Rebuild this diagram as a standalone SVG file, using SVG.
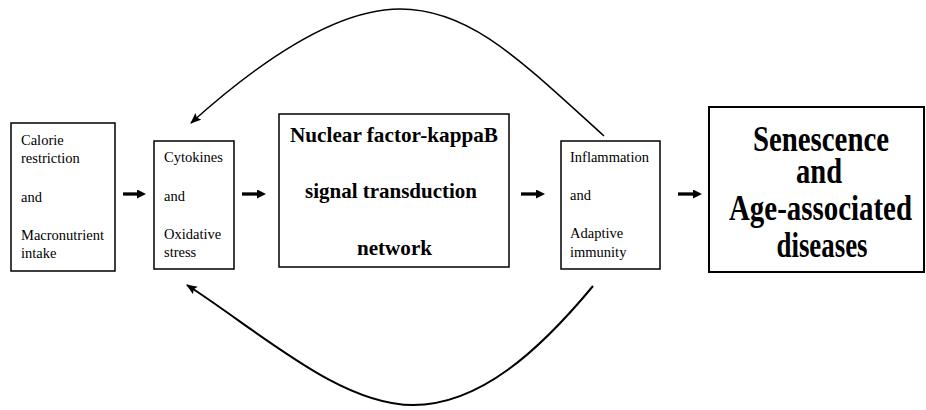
<svg xmlns="http://www.w3.org/2000/svg" width="926" height="410" viewBox="0 0 926 410">
<style>
.box{fill:#fff;stroke:#000;stroke-width:1.5}
.big{fill:#fff;stroke:#000;stroke-width:2}
.t{font-family:"Liberation Serif","Times New Roman",serif;font-size:14.5px;fill:#000}
.b{font-family:"Liberation Serif","Times New Roman",serif;font-weight:bold;fill:#000;text-anchor:middle}
.thick{stroke:#000;stroke-width:3.3;fill:none;marker-end:url(#th)}
.curve{stroke:#000;fill:none;marker-end:url(#cv)}
</style>
<defs>
<marker id="th" markerUnits="userSpaceOnUse" markerWidth="10" markerHeight="10" refX="3" refY="4.5" orient="auto"><path d="M0,0 L9,4.5 L0,9 z" fill="#000"/></marker>
<marker id="cv" markerUnits="userSpaceOnUse" markerWidth="12" markerHeight="10" refX="10" refY="4.5" orient="auto"><path d="M0,0 L11,4.5 L0,9 L2,4.5 z" fill="#000"/></marker>
</defs>
<rect width="926" height="410" fill="#fff"/>
<g id="n1">
<rect class="box" x="11" y="123" width="104" height="148"/>
<text class="t" x="21" y="145">Calorie</text>
<text class="t" x="21" y="163">restriction</text>
<text class="t" x="21" y="202">and</text>
<text class="t" x="21" y="240">Macronutrient</text>
<text class="t" x="21" y="258">intake</text>
</g>
<g id="n2">
<rect class="box" x="154" y="141" width="80" height="128"/>
<text class="t" x="164" y="162">Cytokines</text>
<text class="t" x="164" y="201">and</text>
<text class="t" x="164" y="239">Oxidative</text>
<text class="t" x="164" y="257">stress</text>
</g>
<g id="n3">
<rect class="box" x="279" y="114" width="230" height="153"/>
<text class="b" x="394" y="142" font-size="22" textLength="208" lengthAdjust="spacingAndGlyphs">Nuclear factor-kappaB</text>
<text class="b" x="391" y="198" font-size="22" textLength="172" lengthAdjust="spacingAndGlyphs">signal transduction</text>
<text class="b" x="394.5" y="255" font-size="22" textLength="75" lengthAdjust="spacingAndGlyphs">network</text>
</g>
<g id="n4">
<rect class="box" x="561" y="141" width="99" height="128"/>
<text class="t" x="570" y="162">Inflammation</text>
<text class="t" x="570" y="200">and</text>
<text class="t" x="570" y="238">Adaptive</text>
<text class="t" x="570" y="257">immunity</text>
</g>
<g id="n5">
<rect class="big" x="709" y="107" width="215" height="165"/>
<text class="b" x="821" y="151" font-size="35" textLength="136" lengthAdjust="spacingAndGlyphs">Senescence</text>
<text class="b" x="819" y="183" font-size="35" textLength="46" lengthAdjust="spacingAndGlyphs">and</text>
<text class="b" x="820.5" y="220" font-size="35" textLength="183" lengthAdjust="spacingAndGlyphs">Age-associated</text>
<text class="b" x="822" y="257" font-size="35" textLength="91" lengthAdjust="spacingAndGlyphs">diseases</text>
</g>
<g id="connectors">
<line class="thick" x1="123" y1="194" x2="140" y2="194"/>
<line class="thick" x1="242" y1="194" x2="260" y2="194"/>
<line class="thick" x1="521" y1="194" x2="539" y2="194"/>
<line class="thick" x1="678" y1="194" x2="696" y2="194"/>
<path class="curve" stroke-width="1.5" d="M604,136 C520,60 470,9 400,9 C330,9 250,70 191,123"/>
<path class="curve" stroke-width="2" d="M593,286 C540,350 480,405 413,405 C340,405 260,332 187,285"/>
</g>
</svg>
